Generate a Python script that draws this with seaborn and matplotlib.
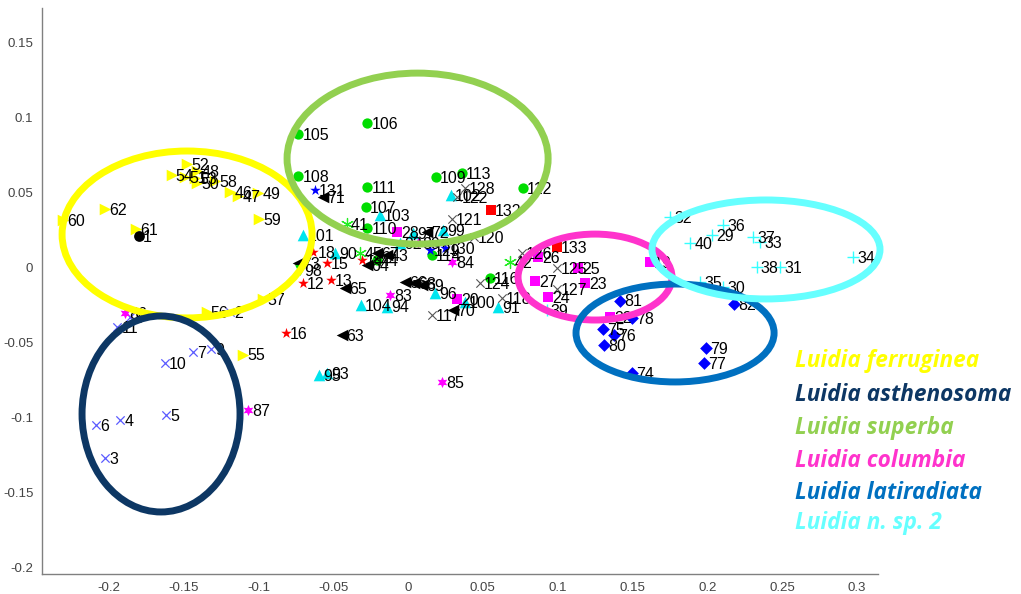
import pandas as pd
import seaborn as sns
import matplotlib.pyplot as plt
from matplotlib.patches import Ellipse

# point labels, coordinates and marker group
ferr_lab = ['60', '62', '61', '52', '54', '51', '53', '48', '50', '58', '46', '47', '49', '59', '57', '56', '55']
ferr_x = [-0.2304, -0.2025, -0.1818, -0.1479, -0.1580, -0.1491, -0.1424, -0.1410, -0.1410, -0.1290, -0.1190, -0.1136, -0.1003, -0.0994, -0.0967, -0.1346, -0.1103]
ferr_y = [0.0315, 0.0389, 0.0253, 0.0689, 0.0615, 0.0602, 0.0595, 0.0642, 0.0562, 0.0575, 0.0502, 0.0475, 0.0495, 0.0322, -0.0213, -0.0296, -0.0582]

asth_lab = ['2', '3', '4', '5', '6', '7', '8', '9', '10', '11']
asth_x = [-0.1190, -0.2025, -0.1925, -0.1618, -0.2086, -0.1437, -0.1860, -0.1317, -0.1624, -0.1943]
asth_y = [-0.0296, -0.1272, -0.1018, -0.0985, -0.1050, -0.0565, -0.0330, -0.0545, -0.0638, -0.0396]

sup_lab = ['105', '106', '107', '108', '109', '110', '111', '112', '113', '114', '116', '44']
sup_x = [-0.0733, -0.0272, -0.0281, -0.0733, 0.0185, -0.0272, -0.0272, 0.0767, 0.0359, 0.0158, 0.0548, -0.0209]
sup_y = [0.0889, 0.0964, 0.0404, 0.0609, 0.0600, 0.0264, 0.0533, 0.0531, 0.0627, 0.0082, -0.0073, 0.0049]

col_lab = ['20', '23', '24', '25', '26', '27', '19', '22', '28']
col_x = [0.0326, 0.1183, 0.0938, 0.1138, 0.0871, 0.0849, 0.1618, 0.1350, -0.0076]
col_y = [-0.0213, -0.0107, -0.0200, -0.0007, 0.0071, -0.0091, 0.0037, -0.0329, 0.0237]

lat_lab = ['74', '75', '76', '77', '78', '79', '80', '81', '82']
lat_x = [0.1495, 0.1306, 0.1377, 0.1981, 0.1495, 0.1990, 0.1312, 0.1417, 0.2182]
lat_y = [-0.0703, -0.0414, -0.0451, -0.0640, -0.0340, -0.0536, -0.0518, -0.0222, -0.0245]

nsp_lab = ['29', '30', '31', '32', '33', '34', '35', '36', '37', '38', '39', '40']
nsp_x = [0.2030, 0.2108, 0.2487, 0.1751, 0.2353, 0.2977, 0.1952, 0.2108, 0.2308, 0.2331, 0.0927, 0.1885]
nsp_y = [0.0215, -0.0129, 0.0004, 0.0337, 0.0171, 0.0071, -0.0096, 0.0282, 0.0204, 0.0004, -0.0285, 0.0160]

ctri_lab = ['101', '102', '103', '104', '94', '96', '100', '91', '93', '95', '97', '99', '90', '92']
ctri_x = [-0.0700, 0.0285, -0.0187, -0.0314, -0.0142, 0.0180, 0.0381, 0.0604, -0.0543, -0.0593, 0.0033, 0.0236, -0.0488, -0.0055]
ctri_y = [0.0215, 0.0482, 0.0349, -0.0251, -0.0262, -0.0173, -0.0229, -0.0267, -0.0703, -0.0718, 0.0227, 0.0247, 0.0093, 0.0163]

btri_lab = ['63', '64', '65', '66', '69', '70', '71', '72', '73', '67', '68', '43']
btri_x = [-0.0443, -0.0276, -0.0421, -0.0020, 0.0092, 0.0303, -0.0570, 0.0125, -0.0733, -0.0209, 0.0040, -0.0142]
btri_y = [-0.0451, 0.0015, -0.0140, -0.0096, -0.0118, -0.0285, 0.0471, 0.0237, 0.0031, 0.0093, -0.0105, 0.0082]

mstar_lab = ['83', '84', '85', '86', '87', '89']
mstar_x = [-0.0120, 0.0292, 0.0225, -0.1890, -0.1070, 0.0070]
mstar_y = [-0.0185, 0.0037, -0.0763, -0.0307, -0.0950, 0.0160]

rstar_lab = ['12', '13', '16', '18', '15', '14']
rstar_x = [-0.0704, -0.0515, -0.0816, -0.0633, -0.0543, -0.0310]
rstar_y = [-0.0107, -0.0085, -0.0440, 0.0104, 0.0027, 0.0049]

gx_lab = ['117', '118', '121', '122', '124', '125', '126', '127', '128', '120']
gx_x = [0.0158, 0.0626, 0.0292, 0.0330, 0.0481, 0.0994, 0.0760, 0.0994, 0.0381, 0.0440]
gx_y = [-0.0318, -0.0207, 0.0320, 0.0470, -0.0107, -0.0007, 0.0093, -0.0147, 0.0527, 0.0200]

rsq_lab = ['132', '133']
rsq_x = [0.0553, 0.0994]
rsq_y = [0.0382, 0.0137]

bcirc_lab = ['1']
bcirc_x = [-0.1798]
bcirc_y = [0.0211]

bstar_lab = ['131', '130', '129']
bstar_x = [-0.0622, 0.0247, 0.0147]
bstar_y = [0.0515, 0.0127, 0.0115]

gast_lab = ['41', '42', '45']
gast_x = [-0.0410, 0.0682, -0.0320]
gast_y = [0.0289, 0.0037, 0.0093]

gtri_lab = ['98']
gtri_x = [-0.0720]
gtri_y = [-0.0018]

species = ['Luidia ferruginea', 'Luidia asthenosoma', 'Luidia superba',
           'Luidia columbia', 'Luidia latiradiata', 'Luidia n. sp. 2']
species_col = ['#ffff00', '#0d3764', '#92d050', '#ff33cc', '#0070c0', '#66ffff']

groups = {
    'ferr': (ferr_lab, ferr_x, ferr_y),
    'asth': (asth_lab, asth_x, asth_y),
    'sup': (sup_lab, sup_x, sup_y),
    'col': (col_lab, col_x, col_y),
    'lat': (lat_lab, lat_x, lat_y),
    'nsp': (nsp_lab, nsp_x, nsp_y),
    'ctri': (ctri_lab, ctri_x, ctri_y),
    'btri': (btri_lab, btri_x, btri_y),
    'mstar': (mstar_lab, mstar_x, mstar_y),
    'rstar': (rstar_lab, rstar_x, rstar_y),
    'gx': (gx_lab, gx_x, gx_y),
    'rsq': (rsq_lab, rsq_x, rsq_y),
    'bcirc': (bcirc_lab, bcirc_x, bcirc_y),
    'bstar': (bstar_lab, bstar_x, bstar_y),
    'gast': (gast_lab, gast_x, gast_y),
    'gtri': (gtri_lab, gtri_x, gtri_y),
}
rows = []
for k, (lab, xs, ys) in groups.items():
    for l, a, b in zip(lab, xs, ys):
        rows.append({'kind': k, 'label': l, 'x': a, 'y': b})
df = pd.DataFrame(rows)

# marker, colour, size, line width
styles = {
    'ferr': ('>', '#ffff00', 70, 0),
    'asth': ('x', '#5b5bff', 36, 0.9),
    'sup': ('o', '#00dd00', 55, 0),
    'col': ('s', '#ff00ff', 52, 0),
    'lat': ('D', '#0000ff', 42, 0),
    'nsp': ('+', '#33ffff', 75, 1.0),
    'ctri': ('^', '#00e5ee', 70, 0),
    'btri': ('<', '#000000', 70, 0),
    'mstar': ((6, 1, 0), '#ff00ff', 65, 0),
    'rstar': ('*', '#ff0000', 65, 0),
    'gx': ('x', '#555555', 36, 0.8),
    'rsq': ('s', '#ff0000', 55, 0),
    'bcirc': ('o', '#000000', 60, 0),
    'bstar': ('*', '#0000ff', 65, 0),
    'gast': ((6, 2, 0), '#22ee22', 75, 0.9),
    'gtri': ('v', '#00dd00', 60, 0),
}

sns.set_style('white')
plt.rcParams['font.family'] = ['Liberation Sans', 'DejaVu Sans']

fig = plt.figure(figsize=(10.21, 5.94), dpi=100)
ax = fig.add_axes([0.0408, 0.0337, 0.8192, 0.9528])

for k, (m, c, s, lw) in styles.items():
    sub = df[df['kind'] == k]
    sns.scatterplot(data=sub, x='x', y='y', marker=m, color=c, s=s,
                    linewidth=lw, edgecolor=c if lw == 0 else None, ax=ax, zorder=3)

for l, a, b in zip(df['label'], df['x'], df['y']):
    ax.annotate(l, (a, b), xytext=(3, -1), textcoords='offset points',
                va='center', ha='left', fontsize=11.5, color='black', zorder=4)

# group outlines: centre x, centre y, width, height
ell_x = [-0.1477, -0.1651, 0.0064, 0.1250, 0.1785, 0.2393]
ell_y = [0.0219, -0.0978, 0.0725, -0.0065, -0.0438, 0.0119]
ell_w = [0.1671, 0.1056, 0.1745, 0.1029, 0.1324, 0.1524]
ell_h = [0.1113, 0.1307, 0.1140, 0.0573, 0.0653, 0.0660]
for cx, cy, w, h, c in zip(ell_x, ell_y, ell_w, ell_h, species_col):
    ax.add_patch(Ellipse((cx, cy), w, h, fill=False, edgecolor=c, lw=5,
                         clip_on=False, zorder=5))

ax.set_xlim(-0.2449, 0.3142)
ax.set_ylim(-0.2045, 0.1729)
ax.set_xticks([-0.2, -0.15, -0.1, -0.05, 0, 0.05, 0.1, 0.15, 0.2, 0.25, 0.3])
ax.set_xticklabels(['-0.2', '-0.15', '-0.1', '-0.05', '0', '0.05', '0.1', '0.15', '0.2', '0.25', '0.3'])
ax.set_yticks([-0.2, -0.15, -0.1, -0.05, 0, 0.05, 0.1, 0.15])
ax.set_yticklabels(['-0.2', '-0.15', '-0.1', '-0.05', '0', '0.05', '0.1', '0.15'])
ax.set_xlabel('')
ax.set_ylabel('')
ax.tick_params(direction='in', length=4, width=0.8, color='#555555',
               labelsize=9.5, labelcolor='#444444', pad=6)
sns.despine(ax=ax)
for sp in ['left', 'bottom']:
    ax.spines[sp].set_color('#808080')
    ax.spines[sp].set_linewidth(1)

leg_y = [361, 395, 428, 461, 493, 523]
for name, c, py in zip(species, species_col, leg_y):
    fig.text(795 / 1021, 1 - py / 594, name, color=c, fontsize=16.3,
             fontweight='bold', fontstyle='italic', family='Open Sans', va='center', ha='left')

fig.savefig('out.png', dpi=100)
